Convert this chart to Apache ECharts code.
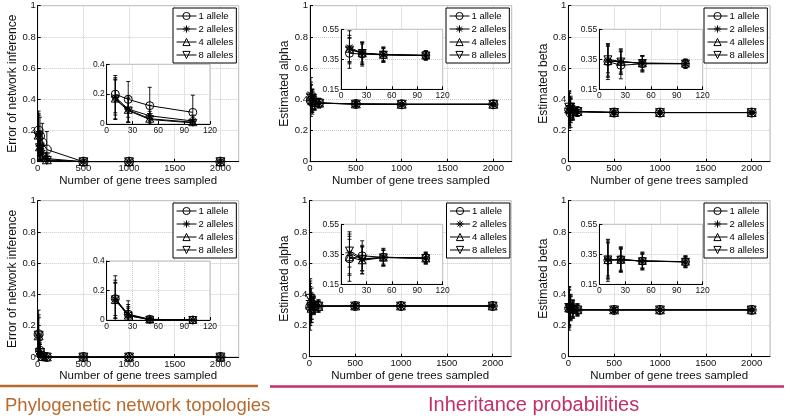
<!DOCTYPE html>
<html><head><meta charset="utf-8">
<script src="https://cdn.jsdelivr.net/npm/echarts@6/dist/echarts.min.js"></script>
<style>html,body{margin:0;padding:0;background:#fff}#c{width:800px;height:416px}</style>
</head><body><div id="c"></div>
<script>
// ---------------- DATA ----------------
const geneTrees = [10, 25, 50, 100, 500, 1000, 2000];
const alleleNames = ['1 allele', '2 alleles', '4 alleles', '8 alleles'];
const xAxisTitle = 'Number of gene trees sampled';

// Panel A: topology error (top row)
const topoErrTop1 = [0.200, 0.165, 0.123, 0.078, 0, 0, 0];
const topoErrTop2 = [0.180, 0.100, 0.055, 0.020, 0, 0, 0];
const topoErrTop4 = [0.170, 0.095, 0.035, 0.012, 0, 0, 0];
const topoErrTop8 = [0.165, 0.090, 0.030, 0.008, 0, 0, 0];
const topoErrTopSd1 = [0.125, 0.120, 0.123, 0.115, 0, 0, 0];
const topoErrTopSd2 = [0.120, 0.090, 0.070, 0.040, 0, 0, 0];
const topoErrTopSd4 = [0.140, 0.080, 0.050, 0.030, 0, 0, 0];
const topoErrTopSd8 = [0.130, 0.080, 0.040, 0.020, 0, 0, 0];

// Panel D: topology error (bottom row)
const topoErrBot1 = [0.145, 0.040, 0.005, 0, 0, 0, 0];
const topoErrBot2 = [0.140, 0.035, 0.004, 0, 0, 0, 0];
const topoErrBot4 = [0.135, 0.030, 0.003, 0, 0, 0, 0];
const topoErrBot8 = [0.140, 0.030, 0.002, 0, 0, 0, 0];
const topoErrBotSd1 = [0.155, 0.090, 0.010, 0, 0, 0, 0];
const topoErrBotSd2 = [0.130, 0.070, 0.008, 0, 0, 0, 0];
const topoErrBotSd4 = [0.120, 0.060, 0.006, 0, 0, 0, 0];
const topoErrBotSd8 = [0.110, 0.050, 0.005, 0, 0, 0, 0];

// Panel B: estimated alpha (top row)
const alphaTop1 = [0.390, 0.385, 0.380, 0.377, 0.370, 0.368, 0.368];
const alphaTop2 = [0.430, 0.390, 0.382, 0.375, 0.370, 0.368, 0.368];
const alphaTop4 = [0.420, 0.390, 0.380, 0.375, 0.370, 0.368, 0.368];
const alphaTop8 = [0.415, 0.392, 0.381, 0.376, 0.369, 0.368, 0.368];
const alphaTopSd1 = [0.100, 0.080, 0.050, 0.030, 0.015, 0.010, 0.008];
const alphaTopSd2 = [0.110, 0.075, 0.050, 0.030, 0.014, 0.010, 0.007];
const alphaTopSd4 = [0.090, 0.070, 0.045, 0.030, 0.013, 0.009, 0.007];
const alphaTopSd8 = [0.080, 0.060, 0.040, 0.025, 0.012, 0.009, 0.006];

// Panel C: estimated beta (top row)
const betaTop1 = [0.335, 0.310, 0.320, 0.320, 0.315, 0.315, 0.315];
const betaTop2 = [0.340, 0.335, 0.322, 0.322, 0.316, 0.315, 0.315];
const betaTop4 = [0.338, 0.333, 0.323, 0.321, 0.315, 0.315, 0.315];
const betaTop8 = [0.350, 0.335, 0.325, 0.322, 0.316, 0.315, 0.315];
const betaTopSd1 = [0.120, 0.090, 0.055, 0.030, 0.015, 0.010, 0.008];
const betaTopSd2 = [0.110, 0.085, 0.050, 0.030, 0.014, 0.010, 0.007];
const betaTopSd4 = [0.100, 0.080, 0.050, 0.028, 0.013, 0.009, 0.007];
const betaTopSd8 = [0.090, 0.070, 0.045, 0.025, 0.012, 0.009, 0.006];

// Panel E: estimated alpha (bottom row)
const alphaBot1 = [0.320, 0.340, 0.330, 0.325, 0.325, 0.325, 0.325];
const alphaBot2 = [0.360, 0.315, 0.330, 0.325, 0.325, 0.325, 0.325];
const alphaBot4 = [0.330, 0.310, 0.328, 0.322, 0.325, 0.325, 0.325];
const alphaBot8 = [0.375, 0.320, 0.330, 0.325, 0.325, 0.325, 0.325];
const alphaBotSd1 = [0.150, 0.100, 0.060, 0.040, 0.015, 0.010, 0.008];
const alphaBotSd2 = [0.140, 0.095, 0.055, 0.038, 0.014, 0.010, 0.007];
const alphaBotSd4 = [0.120, 0.090, 0.050, 0.035, 0.013, 0.009, 0.007];
const alphaBotSd8 = [0.110, 0.080, 0.045, 0.030, 0.012, 0.009, 0.006];

// Panel F: estimated beta (bottom row)
const betaBot1 = [0.310, 0.315, 0.305, 0.300, 0.300, 0.300, 0.300];
const betaBot2 = [0.315, 0.315, 0.305, 0.300, 0.300, 0.300, 0.300];
const betaBot4 = [0.312, 0.313, 0.306, 0.301, 0.300, 0.300, 0.300];
const betaBot8 = [0.316, 0.314, 0.304, 0.300, 0.300, 0.300, 0.300];
const betaBotSd1 = [0.140, 0.085, 0.060, 0.040, 0.015, 0.010, 0.008];
const betaBotSd2 = [0.130, 0.080, 0.055, 0.038, 0.014, 0.010, 0.007];
const betaBotSd4 = [0.120, 0.075, 0.050, 0.035, 0.013, 0.009, 0.007];
const betaBotSd8 = [0.110, 0.070, 0.045, 0.030, 0.012, 0.009, 0.006];

const groupTitles = ['Phylogenetic network topologies', 'Inheritance probabilities'];

// ---------------- PANELS ----------------
const panels = [
  { yName: 'Error of network inference', means: [topoErrTop1, topoErrTop2, topoErrTop4, topoErrTop8], sds: [topoErrTopSd1, topoErrTopSd2, topoErrTopSd4, topoErrTopSd8], inMin: 0, inMax: 0.4, nameGap: 19,
    main: [37.7, 5.7, 201, 156], inset: [106.7, 64.3, 103.3, 59.7], legend: [173, 8] },
  { yName: 'Estimated alpha', means: [alphaTop1, alphaTop2, alphaTop4, alphaTop8], sds: [alphaTopSd1, alphaTopSd2, alphaTopSd4, alphaTopSd8], inMin: 0.15, inMax: 0.55, nameGap: 17,
    main: [310, 5.7, 201.7, 156], inset: [341, 29.3, 101.7, 60], legend: [446, 8] },
  { yName: 'Estimated beta', means: [betaTop1, betaTop2, betaTop4, betaTop8], sds: [betaTopSd1, betaTopSd2, betaTopSd4, betaTopSd8], inMin: 0.15, inMax: 0.55, nameGap: 17,
    main: [568.3, 5.7, 201.7, 156], inset: [599.3, 29.3, 103.4, 60], legend: [704, 8] },
  { yName: 'Error of network inference', means: [topoErrBot1, topoErrBot2, topoErrBot4, topoErrBot8], sds: [topoErrBotSd1, topoErrBotSd2, topoErrBotSd4, topoErrBotSd8], inMin: 0, inMax: 0.4, nameGap: 19,
    main: [37.7, 200.7, 201, 156.3], inset: [106.7, 261, 103.3, 59], legend: [173, 203] },
  { yName: 'Estimated alpha', means: [alphaBot1, alphaBot2, alphaBot4, alphaBot8], sds: [alphaBotSd1, alphaBotSd2, alphaBotSd4, alphaBotSd8], inMin: 0.15, inMax: 0.55, nameGap: 17,
    main: [309.3, 200.7, 201.7, 156], inset: [341, 224.3, 101.7, 60], legend: [446.5, 203] },
  { yName: 'Estimated beta', means: [betaBot1, betaBot2, betaBot4, betaBot8], sds: [betaBotSd1, betaBotSd2, betaBotSd4, betaBotSd8], inMin: 0.15, inMax: 0.55, nameGap: 17,
    main: [568.3, 200.7, 201.7, 156], inset: [599.3, 224.3, 103.4, 60], legend: [704, 203] }
];

const FONT = 'Liberation Sans, Arial, Helvetica, sans-serif';
const symbols = [
  'circle',
  'path://M5,0L5,10M0,5L10,5M1.5,1.5L8.5,8.5M1.5,8.5L8.5,1.5',
  'path://M5,0L10,8.66L0,8.66Z',
  'path://M0,0L10,0L5,8.66Z'
];
const symSizeMain = 9, symSizeInset = 8;

function renderErr(params, api) {
  const x = api.value(0), y = api.value(1), e = api.value(2);
  if (!e) return null;
  const t = api.coord([x, y + e]);
  const b = api.coord([x, y - e]);
  const cw = 2;
  const st = { stroke: '#000', lineWidth: 0.9 };
  return { type: 'group', children: [
    { type: 'line', shape: { x1: t[0], y1: t[1], x2: b[0], y2: b[1] }, style: st },
    { type: 'line', shape: { x1: t[0] - cw, y1: t[1], x2: t[0] + cw, y2: t[1] }, style: st },
    { type: 'line', shape: { x1: b[0] - cw, y1: b[1], x2: b[0] + cw, y2: b[1] }, style: st }
  ]};
}

const grid = [], xAxis = [], yAxis = [], series = [], legend = [];
const axisCommon = (z) => ({
  z: z,
  axisLine: { show: true, onZero: false, lineStyle: { color: '#000', width: 1 } },
  axisTick: { show: true, inside: true, length: 3, lineStyle: { color: '#000' } },
  splitLine: { show: true, lineStyle: { color: '#c8c8c8', type: 'dotted', width: 1 } }
});

panels.forEach((p, i) => {
  const gi = grid.length;
  grid.push({ left: p.main[0], top: p.main[1], width: p.main[2], height: p.main[3], show: true, borderColor: '#bbb', borderWidth: 1, backgroundColor: 'transparent', z: 0 });
  grid.push({ left: p.inset[0], top: p.inset[1], width: p.inset[2], height: p.inset[3], show: true, borderColor: '#bbb', borderWidth: 1, backgroundColor: '#fff', z: 10 });

  xAxis.push(Object.assign(axisCommon(1), {
    type: 'value', gridIndex: gi, min: 0, max: 2200, interval: 500,
    name: xAxisTitle, nameLocation: 'middle', nameGap: 12,
    nameTextStyle: { fontFamily: FONT, fontSize: 11.5, color: '#111' },
    axisLabel: { fontFamily: FONT, fontSize: 9.5, color: '#111', margin: 2, showMaxLabel: false,
      formatter: v => (v > 2000 ? '' : String(v)) }
  }));
  yAxis.push(Object.assign(axisCommon(1), {
    type: 'value', gridIndex: gi, min: 0, max: 1, interval: 0.2,
    name: p.yName, nameLocation: 'middle', nameGap: p.nameGap,
    nameTextStyle: { fontFamily: FONT, fontSize: 12, color: '#111' },
    axisLabel: { fontFamily: FONT, fontSize: 9.5, color: '#111', margin: 2 }
  }));
  xAxis.push(Object.assign(axisCommon(11), {
    type: 'value', gridIndex: gi + 1, min: 0, max: 120, interval: 30,
    axisLabel: { fontFamily: FONT, fontSize: 8.5, color: '#111', margin: 2 }
  }));
  yAxis.push(Object.assign(axisCommon(11), {
    type: 'value', gridIndex: gi + 1, min: p.inMin, max: p.inMax, interval: 0.2,
    axisLabel: { fontFamily: FONT, fontSize: 8.5, color: '#111', margin: 2 }
  }));

  [0, 1].forEach(k => {
    const axi = gi + k;
    const zb = k === 0 ? 2 : 12;
    const n = k === 0 ? geneTrees.length : 4;
    alleleNames.forEach((nm, a) => {
      const pts = [], errs = [];
      for (let j = 0; j < n; j++) {
        pts.push([geneTrees[j], p.means[a][j]]);
        errs.push([geneTrees[j], p.means[a][j], p.sds[a][j]]);
      }
      series.push({
        type: 'custom', name: 'err', xAxisIndex: axi, yAxisIndex: axi, z: zb, clip: true,
        renderItem: renderErr, data: errs, silent: true, animation: false
      });
      series.push({
        type: 'line', name: nm, xAxisIndex: axi, yAxisIndex: axi, z: zb + 1, data: pts,
        symbol: symbols[a], symbolSize: k === 0 ? symSizeMain : symSizeInset, symbolKeepAspect: true, showAllSymbol: true,
        lineStyle: { color: '#000', width: 1 },
        itemStyle: { color: 'rgba(255,255,255,0)', borderColor: '#000', borderWidth: 1 },
        animation: false
      });
    });
  });

  legend.push({
    data: alleleNames, orient: 'vertical', left: p.legend[0], top: p.legend[1],
    itemWidth: 20, itemHeight: 9, itemGap: 3, padding: [3, 3, 3, 3],
    backgroundColor: '#fff', borderColor: '#000', borderWidth: 1, borderRadius: 0, z: 20,
    selectedMode: false,
    itemStyle: { color: 'rgba(255,255,255,0)', borderColor: '#000', borderWidth: 1 },
    lineStyle: { color: '#000', width: 1 },
    textStyle: { fontFamily: FONT, fontSize: 9.5, color: '#000', lineHeight: 10, padding: [0, 0, 0, -3] }
  });
});

const graphic = [
  { type: 'line', shape: { x1: 0, y1: 386, x2: 258, y2: 386 }, style: { stroke: '#b86a2e', lineWidth: 2.5 } },
  { type: 'line', shape: { x1: 270, y1: 386.5, x2: 784, y2: 386.5 }, style: { stroke: '#c0306a', lineWidth: 2.5 } },
  { type: 'text', left: 5, top: 396, style: { text: groupTitles[0], fontFamily: FONT, fontSize: 18.5, fill: '#b86a2e' } },
  { type: 'text', left: 428, top: 395, style: { text: groupTitles[1], fontFamily: FONT, fontSize: 20, fill: '#c0306a' } }
];

const chart = echarts.init(document.getElementById('c'), null, { renderer: 'canvas' });
chart.setOption({ animation: false, backgroundColor: '#fff', grid, xAxis, yAxis, series, legend, graphic });
</script>
</body></html>
